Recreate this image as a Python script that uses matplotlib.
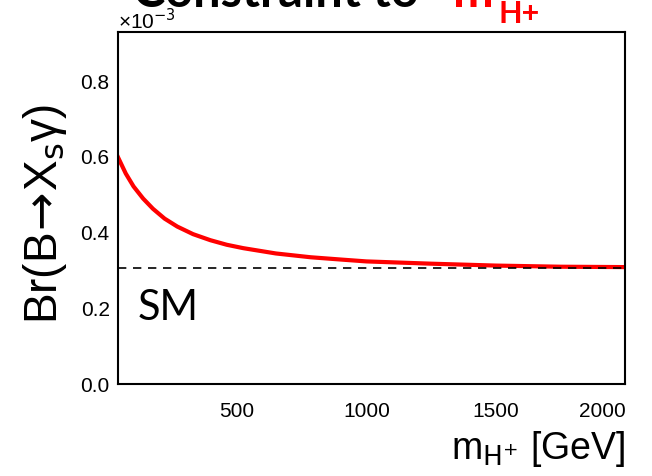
import numpy as np
import matplotlib
matplotlib.use("Agg")
import matplotlib.pyplot as plt

plt.rcParams['font.family'] = ['Liberation Sans', 'DejaVu Sans']
plt.rcParams['mathtext.fontset'] = 'dejavusans'

# charged Higgs mass [GeV] and Br(B -> Xs gamma) in units of 1e-3
m_hplus = [40, 70, 100, 137, 175, 220, 269, 330, 397, 460, 524, 650, 784, 900,
           1000, 1250, 1500, 1750, 2000]
br_bsg = [0.599, 0.556, 0.522, 0.490, 0.463, 0.437, 0.416, 0.396, 0.380, 0.368,
          0.359, 0.345, 0.335, 0.329, 0.324, 0.318, 0.313, 0.310, 0.309]
br_sm = 0.307

x_ticks = [500, 1000, 1500, 2000]
y_ticks = [0.0, 0.2, 0.4, 0.6, 0.8]

fig = plt.figure(figsize=(6.52, 4.76), dpi=100)
ax = fig.add_axes([0.181, 0.193, 0.778, 0.740])

ax.plot(m_hplus, br_bsg, color='red', lw=3, solid_joinstyle='round')
ax.axhline(br_sm, color='black', lw=1.2, ls=(0, (5, 4)))

ax.set_xlim(40, 2000)
ax.set_ylim(0, 0.93)
ax.set_xticks(x_ticks)
ax.set_yticks(y_ticks)
ax.set_yticklabels([f"{v:.1f}" for v in y_ticks])
ax.tick_params(length=0, labelsize=15, pad=6)
ax.tick_params(axis='x', pad=13)
for s in ax.spines.values():
    s.set_linewidth(1.5)
# last x label shifted left like in ROOT
ax.get_xticklabels()[-1].set_ha('right')

ax.text(0.038, 0.216, 'SM', transform=ax.transAxes, fontsize=30,
        family=['Lato', 'DejaVu Sans'], va='center')

# exponent label
fig.text(0.181, 0.938, '×10$^{-3}$', fontsize=15)

fig.text(0.032, 0.55, r'Br(B$\!\rightarrow\!$X$_{\mathsf{s}}$γ)', rotation=90,
         fontsize=33, va='center', ha='left')
fig.text(0.959, 0.035, r'm$_{\mathsf{H^{+}}}$ [GeV]', fontsize=27, ha='right')

# title, cut off at the top like the reference
fig.text(0.204, 0.985, 'Constraint to', fontsize=35, fontweight='bold',
         family=['Lato', 'DejaVu Sans'], va='baseline')
fig.text(0.695, 0.985, 'm', fontsize=35, fontweight='bold', color='red',
         family=['Lato', 'DejaVu Sans'], va='baseline')
fig.text(0.765, 0.952, 'H+', fontsize=22, fontweight='bold', color='red',
         family=['Lato', 'DejaVu Sans'], va='baseline')

fig.savefig('out.png', dpi=100)
